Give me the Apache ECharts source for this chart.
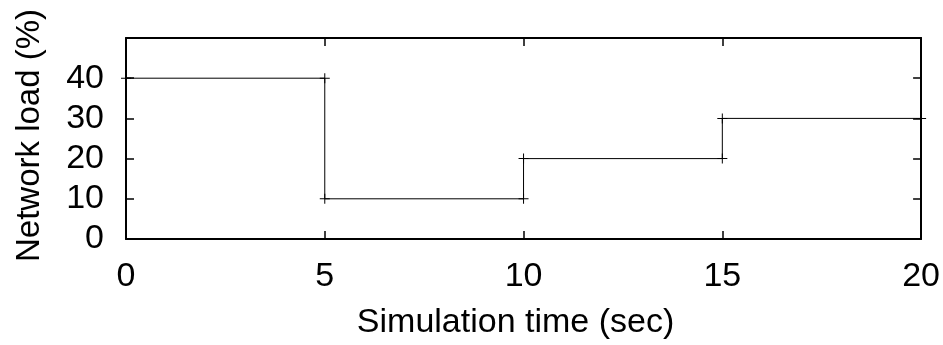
<!DOCTYPE html>
<html>
<head>
<meta charset="utf-8">
<script src="https://cdn.jsdelivr.net/npm/echarts@6/dist/echarts.min.js"></script>
<style>html,body{margin:0;padding:0;background:#fff;}#c{width:943px;height:345px;}</style>
</head>
<body>
<div id="c"></div>
<script>
const times = [0, 5, 5, 10, 10, 15, 15, 20];
const load = [40, 40, 10, 10, 20, 20, 30, 30];
const xTicks = [0, 5, 10, 15, 20];
const yTicks = [0, 10, 20, 30, 40];
const xTitle = 'Simulation time (sec)';
const yTitle = 'Network load (%)';

const font = 'Liberation Sans, Arial, Helvetica, sans-serif';
const fs = 34;
const chart = echarts.init(document.getElementById('c'), null, {renderer: 'canvas'});
const plus = 'path://M4.5,0h1v10h-1zM0,4.5h10v1h-10z';
function axisCommon() {
  return {
    axisLine: {show: true, onZero: false, lineStyle: {color: '#000', width: 2}},
    axisTick: {show: true, inside: true, length: 8, lineStyle: {color: '#000', width: 1.5}},
    splitLine: {show: false}
  };
}
chart.setOption({
  animation: false,
  backgroundColor: '#fff',
  grid: {left: 126, right: 21, top: 38, bottom: 105, containLabel: false},
  xAxis: [
    Object.assign({
      type: 'value', min: 0, max: 20, interval: 5, position: 'bottom',
      name: xTitle, nameLocation: 'middle', nameGap: 67,
      nameTextStyle: {fontFamily: font, fontSize: fs, color: '#000', padding: [0, 16, 0, 0]},
      axisLabel: {fontFamily: font, fontSize: fs, color: '#000', margin: 21,
        formatter: v => xTicks.includes(v) ? String(v) : ''}
    }, axisCommon()),
    Object.assign({
      type: 'value', min: 0, max: 20, interval: 5, position: 'top',
      axisLabel: {show: false}
    }, axisCommon())
  ],
  yAxis: [
    Object.assign({
      type: 'value', min: 0, max: 50, interval: 10, position: 'left',
      name: yTitle, nameLocation: 'middle', nameGap: 80,
      nameTextStyle: {fontFamily: font, fontSize: 33, color: '#000', padding: [0, 0, 0, 6]},
      axisLabel: {fontFamily: font, fontSize: fs, color: '#000', margin: 22,
        formatter: v => yTicks.includes(v) ? String(v) : ''}
    }, axisCommon()),
    Object.assign({
      type: 'value', min: 0, max: 50, interval: 10, position: 'right',
      axisLabel: {show: false}
    }, axisCommon())
  ],
  series: [{
    type: 'line',
    data: times.map((t, i) => [t, load[i]]),
    xAxisIndex: 0, yAxisIndex: 0,
    clip: false,
    showSymbol: true,
    symbol: plus,
    symbolSize: 10,
    itemStyle: {color: '#000'},
    lineStyle: {color: '#000', width: 1}
  }]
});
</script>
</body>
</html>
